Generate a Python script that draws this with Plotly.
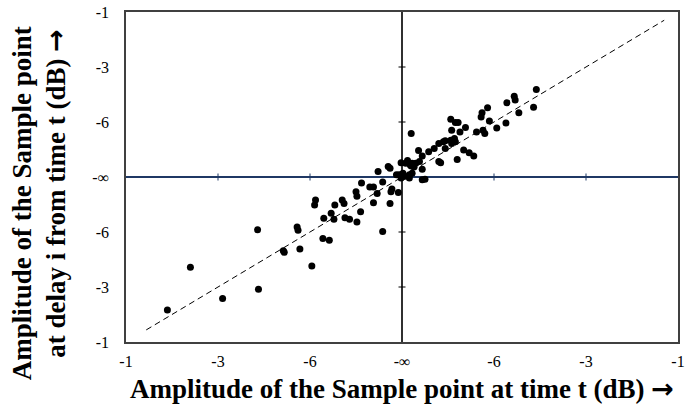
import plotly.graph_objects as go

# Axis tick positions (uniform thirds) and their dB labels
tick_vals = [-3, -2, -1, 0, 1, 2, 3]
tick_text = ["-1", "-3", "-6", "-\u221e", "-6", "-3", "-1"]

# Scatter points (axis units)
x_vals = [-2.55, -2.30, -1.95, -1.57, -1.56, -1.29, -1.28, -1.14, -1.13, -1.11,
          -0.98, -0.86, -0.79, -0.85, -0.77, -0.74, -0.94, -0.95, -0.73, -0.65,
          -0.63, -0.62, -0.57, -0.49, -0.50, -0.49, -0.45, -0.44, -0.35, -0.31,
          -0.31, -0.27, -0.26, -0.21, -0.21, -0.13, -0.12, -0.11, -0.04, -0.15,
          -0.13, -0.06, -0.03, -0.01, 0.02, 0.01, 0.04, 0.09, 0.11, 0.08,
          0.11, 0.08, 0.22, 0.25, -0.01, 0.06, 0.10, 0.13, 0.15, 0.19,
          0.18, 0.22, 0.22, 0.10, 0.29, 0.35, 0.40, 0.42, 0.40, 0.47,
          0.45, 0.47, 0.53, 0.54, 0.57, 0.58, 0.60, 0.54, 0.53, 0.58,
          0.61, 0.63, 0.69, 0.67, 0.73, 0.78, 0.81, 0.86, 0.87, 0.88,
          0.90, 0.93, 0.95, 1.03, 1.13, 1.14, 1.22, 1.23, 1.27, 1.43, 1.46]
y_vals = [-2.42, -1.64, -2.21, -0.96, -2.04, -1.34, -1.37, -0.91, -0.97, -1.31,
          -1.62, -1.12, -1.15, -0.75, -0.66, -0.77, -0.42, -0.51, -0.51, -0.42,
          -0.48, -0.74, -0.77, -0.82, -0.27, -0.35, -0.63, -0.11, -0.18, -0.18,
          -0.47, -0.30, 0.10, -0.99, -0.09, -0.48, -0.27, -0.22, -0.28, 0.19,
          0.16, 0.04, 0.04, -0.02, 0.01, 0.07, 0.25, 0.22, 0.25, 0.04,
          0.07, -0.02, -0.05, -0.04, 0.26, 0.30, 0.20, 0.18, 0.25, 0.28,
          0.48, 0.38, 0.14, 0.79, 0.46, 0.52, 0.61, 0.26, 0.28, 0.66,
          0.64, 0.52, 0.67, 0.61, 0.70, 0.64, 0.32, 0.85, 1.05, 0.99,
          0.99, 0.82, 0.90, 0.49, 0.44, 0.38, 0.82, 1.09, 1.17, 0.85,
          0.79, 1.26, 1.02, 0.89, 0.98, 1.35, 1.47, 1.40, 1.17, 1.27, 1.59]

# Dashed identity (y = x) line extent
line_x = [-2.78, 2.85]
line_y = [-2.78, 2.85]

serif = "Liberation Serif, Times New Roman, serif"
arrow = "<span style='font-family:DejaVu Sans'>\u2192</span>"

fig = go.Figure()

fig.add_trace(go.Scatter(
    x=line_x, y=line_y, mode="lines",
    line=dict(color="black", width=1, dash="6px,4px"),
    hoverinfo="skip", showlegend=False))

# small tick marks on the centre axes
fig.add_trace(go.Scatter(
    x=[-2, -1, 1, 2], y=[0, 0, 0, 0], mode="markers",
    marker=dict(symbol="line-ns", size=5, line=dict(color="#1f3864", width=1)),
    hoverinfo="skip", showlegend=False))
fig.add_trace(go.Scatter(
    x=[0, 0, 0, 0], y=[-2, -1, 1, 2], mode="markers",
    marker=dict(symbol="line-ew", size=5, line=dict(color="black", width=1)),
    hoverinfo="skip", showlegend=False))

fig.add_trace(go.Scatter(
    x=x_vals, y=y_vals, mode="markers",
    marker=dict(color="black", size=7),
    showlegend=False))

axis_common = dict(
    range=[-3, 3], tickvals=tick_vals, ticktext=tick_text,
    showgrid=False, showline=True, mirror=True,
    linecolor="#404040", linewidth=1.5, ticks="",
    tickfont=dict(family=serif, size=16, color="black"),
    ticklabeloverflow="allow",
    zeroline=True, zerolinewidth=1.5, fixedrange=True)

title_font = dict(family=serif, size=27, color="black")

fig.update_layout(
    width=689, height=410,
    margin=dict(l=126, r=4, t=12, b=68),
    paper_bgcolor="white", plot_bgcolor="white",
    xaxis=dict(**axis_common, zerolinecolor="#303030", ticklabelstandoff=4),
    yaxis=dict(**axis_common, zerolinecolor="#1f3864", ticklabelstandoff=12),
    annotations=[
        dict(text="<b>Amplitude of the Sample point at time t (dB) " + arrow + "</b>",
             x=0.5, y=-0.142, xref="paper", yref="paper",
             xanchor="center", yanchor="middle", showarrow=False,
             font=title_font),
        dict(text="<b>Amplitude of the Sample point</b>",
             x=-0.187, y=0.42, xref="paper", yref="paper",
             xanchor="center", yanchor="middle", showarrow=False, textangle=-90,
             font=title_font),
        dict(text="<b>at delay i from time t (dB) " + arrow + "</b>",
             x=-0.128, y=0.45, xref="paper", yref="paper",
             xanchor="center", yanchor="middle", showarrow=False, textangle=-90,
             font=title_font),
    ])

fig.write_html("out.html")
